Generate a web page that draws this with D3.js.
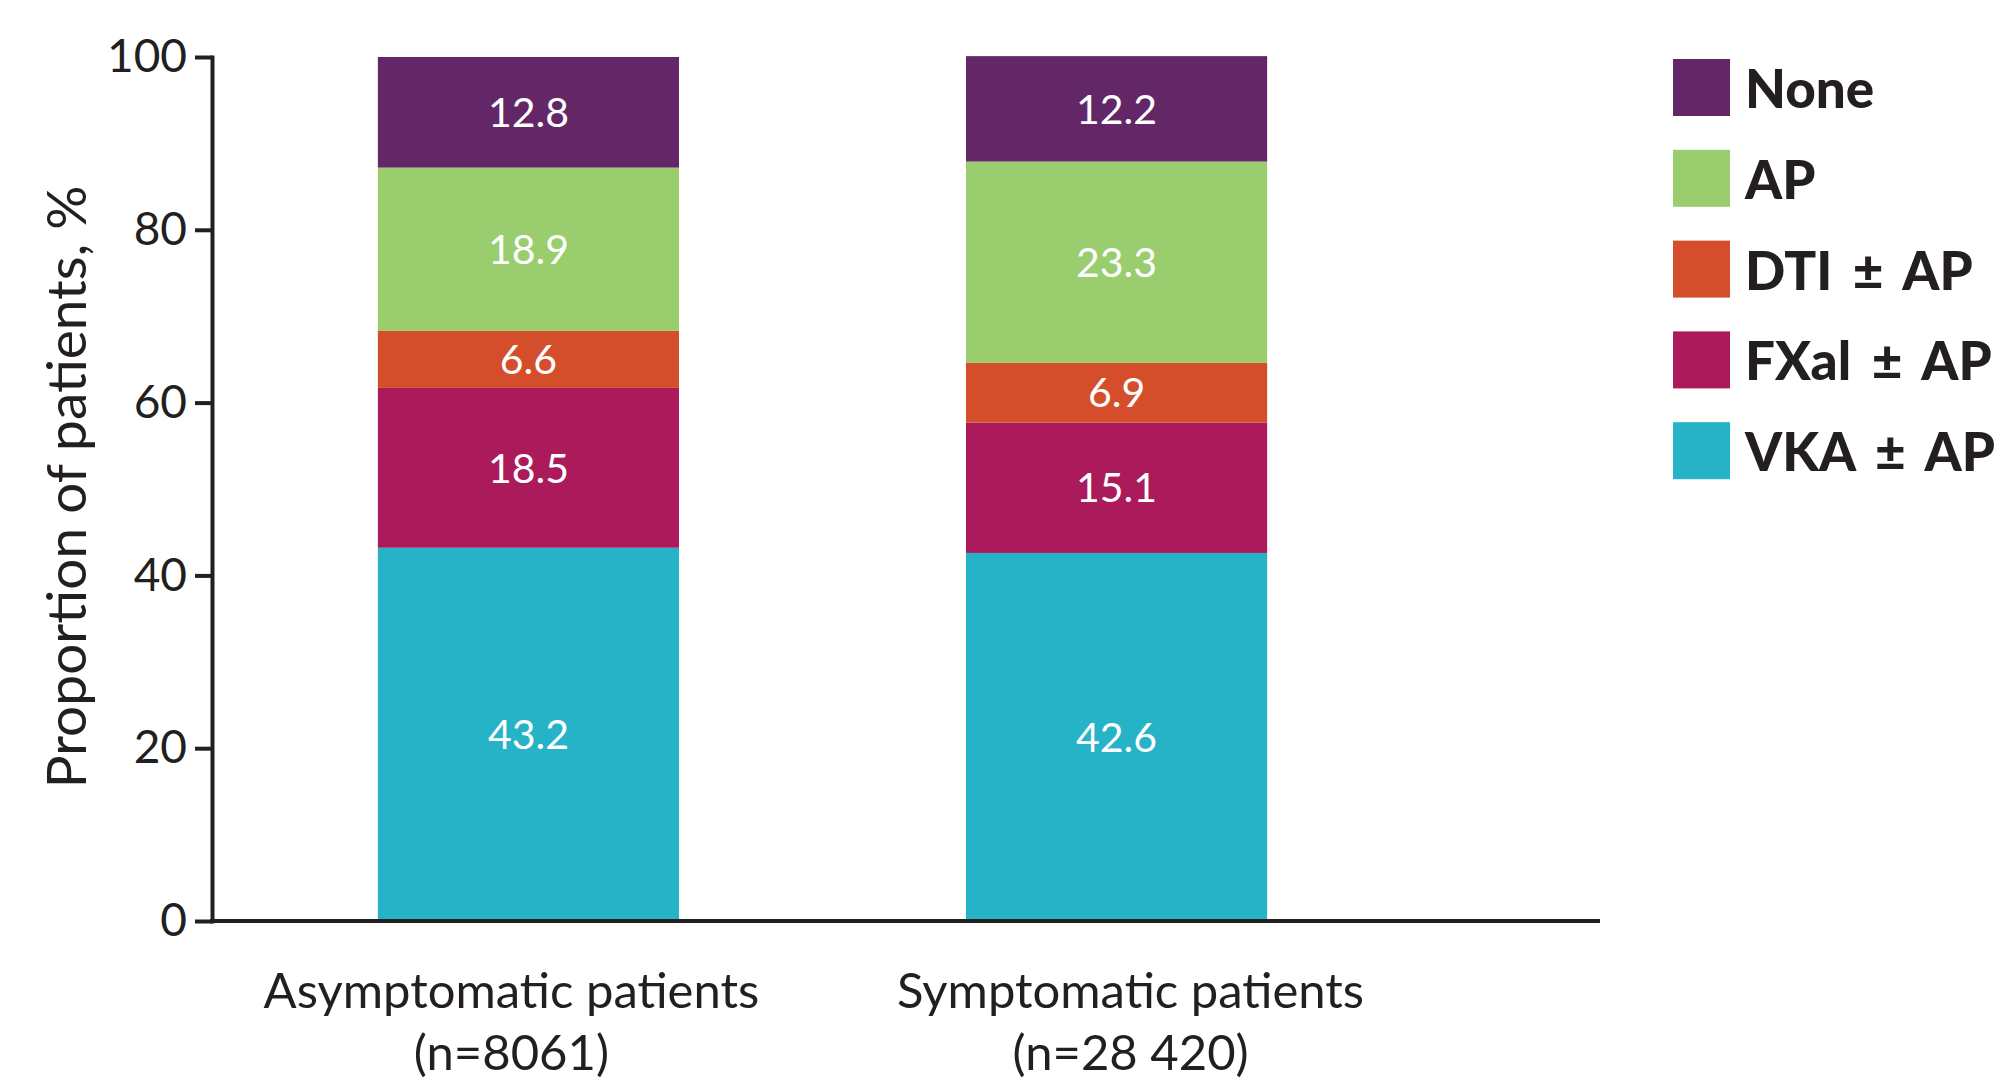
<!DOCTYPE html>
<html>
<head>
<meta charset="utf-8">
<script src="https://cdn.jsdelivr.net/npm/d3@7"></script>
<style>
  html, body { margin: 0; padding: 0; background: #ffffff; }
  svg { display: block; }
  text { font-family: Lato, "Open Sans", sans-serif; }
</style>
</head>
<body>
<svg id="chart" width="2005" height="1082"></svg>
<script>
// ---- data ----
const categories = ["Asymptomatic patients", "Symptomatic patients"];
const sampleSizes = ["(n=8061)", "(n=28 420)"];
const seriesNames = ["VKA ± AP", "FXal ± AP", "DTI ± AP", "AP", "None"];
const vkaValues  = [43.2, 42.6];
const fxalValues = [18.5, 15.1];
const dtiValues  = [6.6, 6.9];
const apValues   = [18.9, 23.3];
const noneValues = [12.8, 12.2];
const yTickValues = [0, 20, 40, 60, 80, 100];
const yAxisTitle = "Proportion of patients, %";
const seriesColors = ["#26B3C7", "#AB1A5A", "#D54E2C", "#99CD6E", "#632767"];

// ---- layout ----
const ink = "#231F20";
const axisX = 212, axisTop = 57, axisBottom = 921, axisRight = 1598;
const labelOffsets = [-17, 14];

const svg = d3.select("#chart");

const rows = categories.map((c, i) => ({
  category: c,
  "VKA ± AP": vkaValues[i],
  "FXal ± AP": fxalValues[i],
  "DTI ± AP": dtiValues[i],
  "AP": apValues[i],
  "None": noneValues[i]
}));

const stack = d3.stack().keys(seriesNames);
const stacked = stack(rows);

const x = d3.scaleBand()
  .domain(categories)
  .range([axisX, 1433])
  .paddingInner(0.488)
  .paddingOuter(0.282);

const y = d3.scaleLinear().domain([0, 100]).range([axisBottom, axisTop]);

const color = d3.scaleOrdinal().domain(seriesNames).range(seriesColors);

// bars
const layers = svg.append("g").selectAll("g")
  .data(stacked).join("g")
  .attr("fill", d => color(d.key));

layers.selectAll("rect")
  .data(d => d.map(p => ({ key: d.key, p })))
  .join("rect")
  .attr("x", d => x(d.p.data.category))
  .attr("width", x.bandwidth())
  .attr("y", d => y(d.p[1]))
  .attr("height", d => y(d.p[0]) - y(d.p[1]));

// value labels
layers.selectAll("text")
  .data(d => d.map(p => ({ key: d.key, p })))
  .join("text")
  .attr("x", d => x(d.p.data.category) + x.bandwidth() / 2)
  .attr("y", d => y((d.p[0] + d.p[1]) / 2))
  .attr("dy", "0.36em")
  .attr("text-anchor", "middle")
  .attr("fill", "#ffffff")
  .style("font-size", "41px")
  .text(d => d.p.data[d.key].toFixed(1));

// y axis
const yAxis = d3.axisLeft(y)
  .tickValues(yTickValues)
  .tickSize(17)
  .tickSizeOuter(0)
  .tickPadding(8)
  .tickFormat(d3.format("d"));

const yg = svg.append("g")
  .attr("transform", `translate(${axisX},0)`)
  .call(yAxis);
yg.select(".domain").attr("stroke", ink).attr("stroke-width", 4).attr("stroke-linecap", "square");
yg.selectAll(".tick line").attr("stroke", ink).attr("stroke-width", 4);
yg.selectAll(".tick text")
  .attr("fill", ink)
  .style("font-family", "Lato, sans-serif")
  .style("font-size", "46px");

// x axis baseline
svg.append("line")
  .attr("x1", axisX).attr("x2", axisRight)
  .attr("y1", y(0)).attr("y2", y(0))
  .attr("stroke", ink).attr("stroke-width", 4).attr("stroke-linecap", "square");

// category labels
const catG = svg.append("g");
categories.forEach((c, i) => {
  const cx = x(c) + x.bandwidth() / 2 + labelOffsets[i];
  catG.append("text")
    .attr("x", cx).attr("y", 1008)
    .attr("text-anchor", "middle")
    .attr("fill", ink)
    .style("font-size", "49px")
    .text(c);
  catG.append("text")
    .attr("x", cx).attr("y", 1070)
    .attr("text-anchor", "middle")
    .attr("fill", ink)
    .style("font-size", "49px")
    .text(sampleSizes[i]);
});

// y axis title
svg.append("text")
  .attr("transform", `translate(86, 487) rotate(-90)`)
  .attr("text-anchor", "middle")
  .attr("fill", ink)
  .style("font-size", "55px")
  .text(yAxisTitle);

// legend
const legendOrder = seriesNames.slice().reverse();
const legend = svg.append("g").attr("transform", "translate(1673,59)");
const li = legend.selectAll("g").data(legendOrder).join("g")
  .attr("transform", (d, i) => `translate(0, ${i * 90.8})`);
li.append("rect")
  .attr("width", 57).attr("height", 57)
  .attr("fill", d => color(d));
li.append("text")
  .attr("x", 72).attr("y", 49)
  .attr("fill", ink)
  .style("font-size", "53px")
  .style("font-weight", "900")
  .style("word-spacing", "8px")
  .text(d => d);
</script>
</body>
</html>
